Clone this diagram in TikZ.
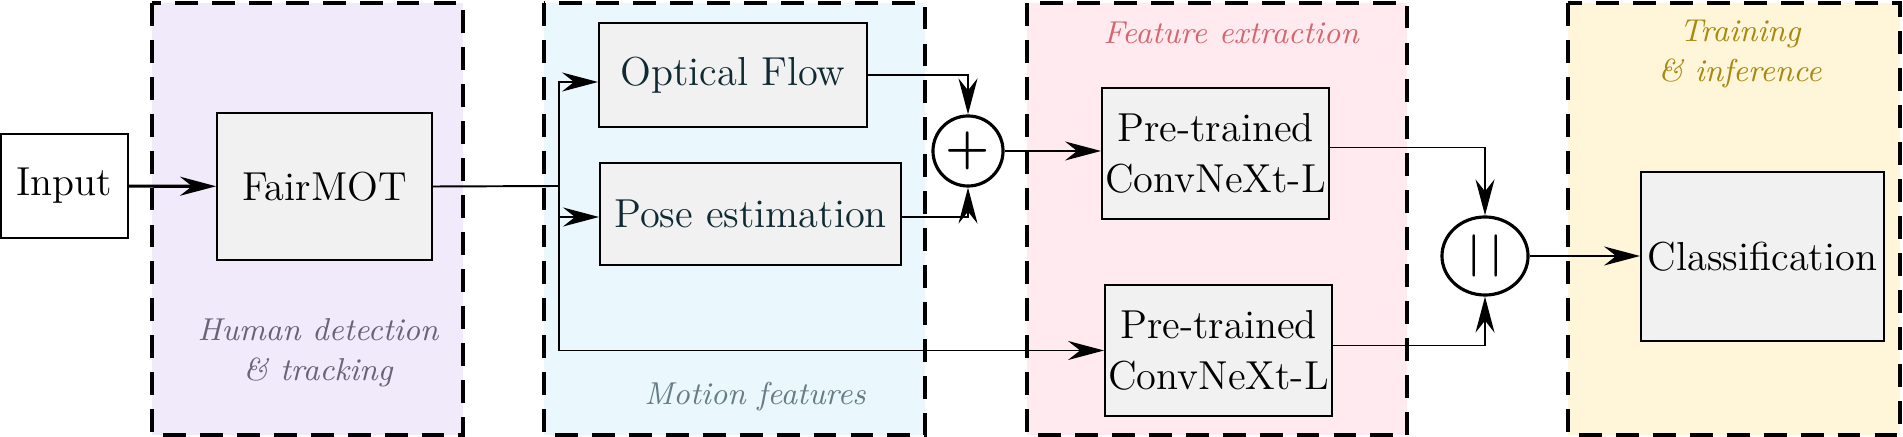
\documentclass[tikz,border=0pt]{standalone}
\usetikzlibrary{arrows.meta,shapes.geometric}

\definecolor{fillA}{HTML}{F0EAFB}
\definecolor{fillB}{HTML}{EAF8FD}
\definecolor{fillC}{HTML}{FFEAF0}
\definecolor{fillD}{HTML}{FFF5D9}
\definecolor{boxgray}{HTML}{F1F1F1}
\definecolor{textA}{HTML}{6A6378}
\definecolor{textB}{HTML}{687C85}
\definecolor{textC}{HTML}{D4666E}
\definecolor{textD}{HTML}{A8880F}
\definecolor{darkteal}{HTML}{0F2A33}

\tikzset{
  block/.style={draw, fill=boxgray, line width=0.5pt, inner sep=0pt,
    align=center, font=\fontsize{11.5}{14.5}\selectfont},
  group/.style={draw, line width=1pt, dash pattern=on 6.5pt off 4pt},
  grouplabel/.style={align=center, inner sep=0pt,
    font=\fontsize{9}{11.3}\selectfont\itshape},
  arr/.style={-{Stealth[length=0.36cm,width=0.19cm,inset=0.12cm]}, line width=0.55pt},
}

\begin{document}
\begin{tikzpicture}[x=0.01cm, y=-0.01cm]
    \useasboundingbox (0,0) rectangle (1903,437);

    % Gruppen
    \draw[group, fill=fillA] (152,3) rectangle (463,435);
    \draw[group, fill=fillB] (544,3) rectangle (925,435);
    \draw[group, fill=fillC] (1027,3) rectangle (1407,435);
    \draw[group, fill=fillD] (1568,3) rectangle (1900,435);

    \node[grouplabel, text=textA] (lbldetect) at (318,353) {Human detection\\\& tracking};
    \node[grouplabel, text=textB] (lblmotion) at (755,397) {Motion features};
    \node[grouplabel, text=textC] (lblfeature) at (1231,33) {Feature extraction};
    \node[grouplabel, text=textD] (lbltrain) at (1740,54) {Training\\\& inference};

    % Bloecke
    \node[block, fill=white, minimum width=1.27cm, minimum height=1.04cm] (input) at (64.5,186) {Input};
    \node[block, minimum width=2.15cm, minimum height=1.47cm] (fairmot) at (324.5,186.5) {FairMOT};
    \node[block, text=darkteal, minimum width=2.68cm, minimum height=1.04cm] (optflow) at (733,75) {Optical Flow};
    \node[block, text=darkteal, minimum width=3.01cm, minimum height=1.02cm] (pose) at (750.5,214) {Pose estimation};
    \node[block, minimum width=2.27cm, minimum height=1.31cm] (convA) at (1215.5,153.5) {Pre-trained\\ConvNeXt-L};
    \node[block, minimum width=2.27cm, minimum height=1.31cm] (convB) at (1218.5,350.5) {Pre-trained\\ConvNeXt-L};
    \node[block, minimum width=2.43cm, minimum height=1.69cm] (classif) at (1762.5,256.5) {Classification};

    % Operatoren
    \node[circle, draw, fill=white, line width=0.9pt, minimum size=0.7cm, inner sep=0pt,
      font=\fontsize{14}{14}\selectfont\boldmath] (plus) at (968,151) {$+$};
    \node[ellipse, draw, fill=white, line width=0.9pt, minimum width=0.86cm, minimum height=0.78cm,
      inner sep=0pt, font=\fontsize{12}{12}\selectfont\boldmath] (concat) at (1485,256) {$|\kern2.5pt|$};

    % Verbindungen
    \coordinate (split) at (559,186);
    \draw[arr, line width=0.9pt] (input) -- (fairmot);
    \draw[line width=0.55pt] (fairmot.east) -- (split);
    \draw[arr] (split) |- ([yshift=-0.07cm]optflow.west);
    \draw[arr] (split) |- ([yshift=-0.03cm]pose.west);
    \draw[arr] (split) |- (convB.west);
    \draw[arr] (optflow.east) -| (plus.north);
    \draw[arr] ([yshift=-0.03cm]pose.east) -| (plus.south);
    \draw[arr] (plus.east) -- (plus.east -| convA.west);
    \draw[arr] ([yshift=0.06cm]convA.east) -| (concat.north);
    \draw[arr] ([yshift=0.05cm]convB.east) -| (concat.south);
    \draw[arr] (concat.east) -- (concat.east -| classif.west);
\end{tikzpicture}
\end{document}
